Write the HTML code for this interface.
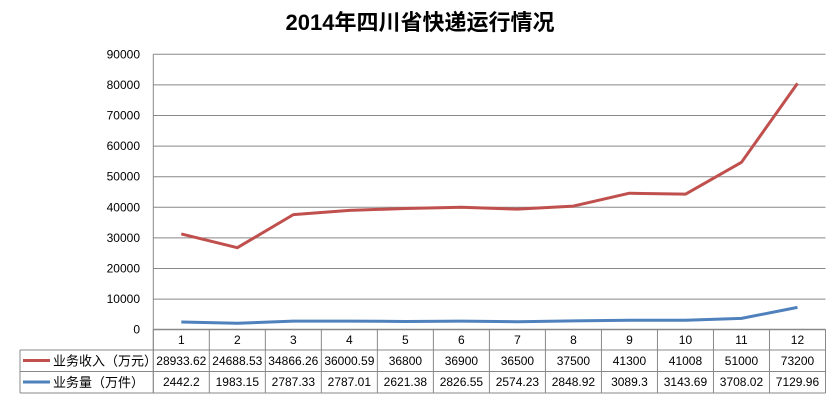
<!DOCTYPE html>
<html><head><meta charset="utf-8"><style>
body{margin:0;background:#fff;width:840px;height:402px;overflow:hidden;font-family:"Liberation Sans","Noto Sans CJK SC",sans-serif}
</style></head><body>
<svg width="840" height="402" xmlns="http://www.w3.org/2000/svg">
<g id="g"></g>
</svg>
<script>
const months=["1","2","3","4","5","6","7","8","9","10","11","12"];
const revenue=[31300,26800,37600,39000,39600,40000,39400,40400,44600,44300,54700,80500];
const volume=[2500,2100,2800,2800,2700,2800,2600,2900,3100,3100,3700,7300];
const revenueLabels=["28933.62","24688.53","34866.26","36000.59","36800","36900","36500","37500","41300","41008","51000","73200"];
const volumeLabels=["2442.2","1983.15","2787.33","2787.01","2621.38","2826.55","2574.23","2848.92","3089.3","3143.69","3708.02","7129.96"];
const yTicks=[0,10000,20000,30000,40000,50000,60000,70000,80000,90000];
const seriesNames=["业务收入（万元）","业务量（万件）"];
const L=153.3,R=825.5,Y0=329.7,Ytop=54.3,YMAX=90000;
const cw=(R-L)/months.length;
const x=i=>L+cw*(i+0.5);
const y=v=>Y0-(Y0-Ytop)*v/YMAX;
const g=document.getElementById('g');
const NS="http://www.w3.org/2000/svg";
function mk(t,a,txt){const e=document.createElementNS(NS,t);for(const k in a)e.setAttribute(k,a[k]);if(txt!==undefined)e.textContent=txt;g.appendChild(e);return e;}
let t=mk('text',{x:420,y:30,'text-anchor':'middle','font-size':22,'font-weight':'bold',fill:'#000'},'2014年四川省快递运行情况');


yTicks.forEach(v=>{
 const l=mk('line',{x1:L,x2:R,y1:y(v),y2:y(v),stroke:'#888','stroke-width':1});
 
 
 const tx=mk('text',{x:140,y:y(v)+4,'text-anchor':'end','font-size':12,fill:'#000'},v);
 
 
});
const ax=mk('line',{x1:L,x2:L,y1:Ytop,y2:393,stroke:'#888'});


const rows=[329.3,350,371.5,393];
rows.forEach((ry,i)=>{const l=mk('line',{x1:i==0?L:20,x2:R,y1:ry,y2:ry,stroke:'#888'});
 
 });
mk('line',{x1:20,x2:20,y1:350,y2:393,stroke:'#888'});
for(let i=0;i<=months.length;i++){const l=mk('line',{x1:L+cw*i,x2:L+cw*i,y1:329.3,y2:393,stroke:'#888'});
 
 }
months.forEach((m,i)=>{
 const a=mk('text',{x:x(i),y:344,'text-anchor':'middle','font-size':12},m);
 
 
 const b=mk('text',{x:x(i),y:365,'text-anchor':'middle','font-size':12},revenueLabels[i]);
 
 
 const c=mk('text',{x:x(i),y:386,'text-anchor':'middle','font-size':12},volumeLabels[i]);
 
 
});
const cols=['#c0504d','#4f81bd'];
[0,1].forEach(s=>{
 const ry=s==0?360.5:382;
 const k=mk('line',{x1:23,x2:50,y1:ry,y2:ry,stroke:cols[s],'stroke-width':3});
 
 
 const n=mk('text',{x:53,y:ry+5,'font-size':13},seriesNames[s]);
 
 
});
[[revenue,cols[0],'revenue-line'],[volume,cols[1],'volume-line']].forEach(([d,c,n])=>{
 const p=mk('polyline',{points:d.map((v,i)=>x(i)+','+y(v)).join(' '),fill:'none',stroke:c,'stroke-width':3,'stroke-linejoin':'round'});
 
 
});
</script>
</body></html>
